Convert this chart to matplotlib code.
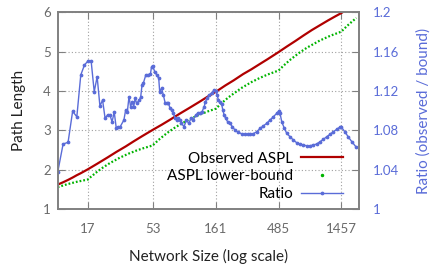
import numpy as np
import matplotlib
matplotlib.use('Agg')
import matplotlib.pyplot as plt
from matplotlib.lines import Line2D
from matplotlib.ticker import FixedLocator, NullLocator, FuncFormatter

plt.rcParams['font.family'] = ['Lato', 'DejaVu Sans']

# values
obs_n = [10, 11, 12, 13, 14, 15, 17, 20, 24, 28, 33, 38, 44, 53, 62, 72, 85, 100,
         120, 140, 161, 190, 220, 260, 300, 350, 400, 485, 560, 650, 750, 870,
         1000, 1150, 1300, 1457, 1600, 1750, 1900]
obs_aspl = [1.62, 1.68, 1.74, 1.80, 1.86, 1.91, 2.01, 2.15, 2.31, 2.45, 2.59, 2.72,
            2.85, 3.01, 3.14, 3.27, 3.42, 3.56, 3.72, 3.86, 3.98, 4.14, 4.27, 4.43,
            4.55, 4.69, 4.81, 4.99, 5.13, 5.27, 5.41, 5.55, 5.67, 5.79, 5.89, 5.98,
            6.07, 6.16, 6.24]

bound_n = [10, 12, 14, 17, 18, 20, 22, 25, 30, 35, 40, 45, 53, 55, 60, 65, 70, 80,
           100, 120, 140, 161, 170, 180, 200, 250, 300, 350, 400, 485, 520, 550,
           600, 700, 800, 1000, 1200, 1457, 1600, 1750, 1900]
bound_aspl = [1.556, 1.636, 1.692, 1.750, 1.824, 1.947, 2.048, 2.167, 2.310, 2.412,
              2.487, 2.545, 2.615, 2.667, 2.780, 2.875, 2.957, 3.089, 3.273, 3.395,
              3.482, 3.550, 3.627, 3.704, 3.834, 4.068, 4.224, 4.335, 4.419, 4.521,
              4.620, 4.696, 4.805, 4.976, 5.104, 5.283, 5.403, 5.508, 5.642, 5.758,
              5.856]

ratio_n = [10, 11, 12, 13, 14, 15, 16, 17, 18, 19, 20, 21, 22, 23, 24, 25, 26, 27, 28,
           29, 30, 32, 33, 34, 35, 36, 37, 38, 39, 40, 42, 43, 44, 45, 47, 49, 51, 52,
           53, 55, 57, 59, 60, 62, 64, 66, 68, 70, 72, 74, 76, 79, 81, 83, 86, 88, 92,
           96, 100, 104, 108, 113, 117, 122, 126, 131, 134, 138, 143, 150, 156, 161,
           165, 168, 173, 178, 182, 186, 191, 198, 206, 215, 225, 239, 253, 268, 285,
           293, 310, 330, 350, 370, 393, 417, 442, 469, 485, 497, 512, 536, 559, 592,
           628, 666, 706, 748, 794, 841, 892, 946, 1003, 1063, 1128, 1195, 1267, 1345,
           1425, 1457, 1556, 1649, 1750, 1878]
ratio = [1.0373, 1.0661, 1.0678, 1.0993, 1.0938, 1.1362, 1.1464, 1.1504, 1.1504,
         1.1192, 1.1345, 1.1047, 1.1108, 1.0922, 1.0956, 1.0956, 1.0887, 1.0986,
         1.0820, 1.0837, 1.0837, 1.0905, 1.1006, 1.0989, 1.1142, 1.1040, 1.1091,
         1.1040, 1.1125, 1.1074, 1.1108, 1.1142, 1.1260, 1.1278, 1.1362, 1.1362,
         1.1372, 1.1446, 1.1457, 1.1396, 1.1362, 1.1329, 1.1192, 1.1227, 1.1159,
         1.1080, 1.1080, 1.1074, 1.1024, 1.1006, 1.0973, 1.0922, 1.0905, 1.0922,
         1.0905, 1.0871, 1.0837, 1.0905, 1.0871, 1.0922, 1.0905, 1.0956, 1.0973,
         1.0979, 1.0986, 1.1040, 1.1091, 1.1125, 1.1159, 1.1182, 1.1210, 1.1203,
         1.1159, 1.1108, 1.1091, 1.1067, 1.1006, 1.0956, 1.0922, 1.0887, 1.0871,
         1.0837, 1.0803, 1.0780, 1.0765, 1.0760, 1.0758, 1.0758, 1.0765, 1.0786,
         1.0820, 1.0844, 1.0871, 1.0905, 1.0938, 1.0973, 1.0995, 1.0973, 1.0887,
         1.0820, 1.0770, 1.0735, 1.0701, 1.0674, 1.0661, 1.0651, 1.0643, 1.0643,
         1.0651, 1.0661, 1.0684, 1.0708, 1.0735, 1.0759, 1.0786, 1.0810, 1.0834,
         1.0834, 1.0783, 1.0732, 1.0686, 1.0635]

x_ticks = [17, 53, 161, 485, 1457]
left_ticks = [1, 2, 3, 4, 5, 6]
right_ticks = [1.0, 1.04, 1.08, 1.12, 1.16, 1.2]

red = '#b00000'
green = '#00b400'
blue = '#5a6cd8'
grey = '#808080'

fig = plt.figure(figsize=(4.35, 2.68), dpi=100)
ax = fig.add_axes([0.1326, 0.2201, 0.6934, 0.7340])
ax2 = ax.twinx()

ax.plot(obs_n, obs_aspl, color=red, lw=1.6)
ax.plot(bound_n, bound_aspl, color=green, lw=1.6, dashes=(0.8, 0.9))
ax2.plot(ratio_n, ratio, color=blue, lw=1.0, marker='o', ms=1.7, mec=blue, mfc=blue)

ax.set_xscale('log')
ax.set_xlim(10, 2000)
ax.set_ylim(1, 6)
ax2.set_ylim(1, 1.2)

ax.xaxis.set_major_locator(FixedLocator(x_ticks))
ax.xaxis.set_minor_locator(NullLocator())
ax.set_xticklabels([str(t) for t in x_ticks])
ax.set_yticks(left_ticks)
ax2.set_yticks(right_ticks)
ax2.yaxis.set_major_formatter(FuncFormatter(lambda v, p: '%g' % v))

ax.grid(True, color='#a0a0a0', lw=0.8, dashes=(1, 2))

for a in (ax, ax2):
    for s in a.spines.values():
        s.set_color(grey)
        s.set_linewidth(1.2)

ax.tick_params(axis='x', direction='in', length=5, color=grey, labelcolor='#6a6a6a',
               labelsize=9.5, pad=10, top=True)
ax.tick_params(axis='y', direction='in', length=5, color=grey, labelcolor='#6a6a6a',
               labelsize=9.5, pad=5)
ax2.tick_params(axis='y', direction='in', length=5, color=grey, labelcolor=blue,
                labelsize=9.5, pad=10)

ax.set_xlabel('Network Size (log scale)', fontsize=11, labelpad=10, color='#222222')
ax.set_ylabel('Path Length', fontsize=11, labelpad=12, color='#222222')
ax2.set_ylabel('Ratio (observed / bound)', fontsize=11, labelpad=12, color=blue)

handles = [
    Line2D([], [], color=red, lw=1.6),
    Line2D([], [], color=green, ls='none', marker='.', ms=3),
    Line2D([], [], color=blue, lw=1.0, marker='o', ms=1.7),
]
labels = ['Observed ASPL', 'ASPL lower-bound', 'Ratio']
ax2.legend(handles, labels, loc='lower right', bbox_to_anchor=(0.946, 0.04),
           frameon=False, markerfirst=False, fontsize=11, handlelength=2.75,
           handletextpad=0.5, labelspacing=0.25, borderpad=0, borderaxespad=0,
           numpoints=1)

fig.savefig('out.png', dpi=100)
